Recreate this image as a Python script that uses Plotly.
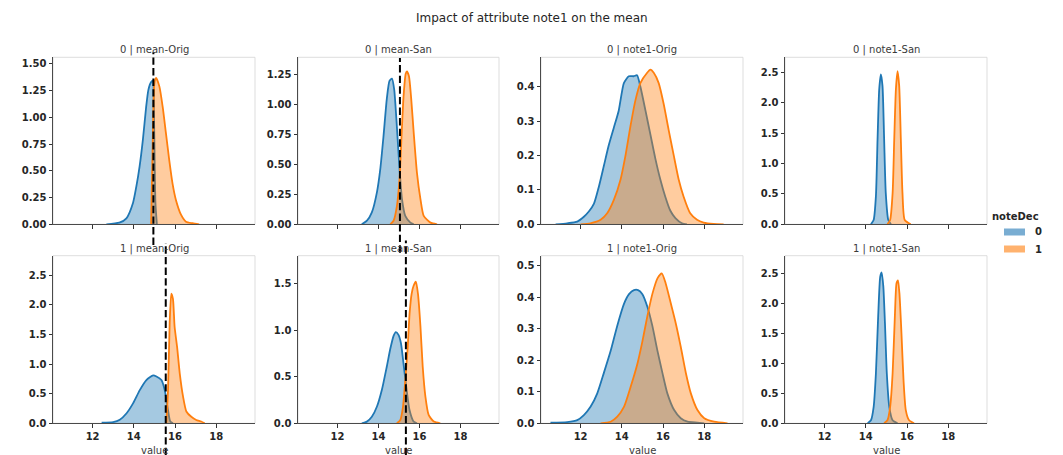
import plotly.graph_objects as go

# ---------------- data ----------------
x_ticks = [12, 14, 16, 18]
x_range = [10.08, 19.88]
hue_levels = ["0", "1"]
panel_titles = ["0 | mean-Orig", "0 | mean-San", "0 | note1-Orig", "0 | note1-San",
                "1 | mean-Orig", "1 | mean-San", "1 | note1-Orig", "1 | note1-San"]

# row 0, mean-Orig
r0_meanOrig_h0_x = [12.67, 13.3, 13.64, 13.96, 14.12, 14.28, 14.44, 14.6, 14.71, 14.84, 14.92, 14.98, 15.05, 15.12]
r0_meanOrig_h0_y = [0.0, 0.015, 0.056, 0.2, 0.35, 0.54, 0.79, 1.1, 1.26, 1.33, 1.34, 1.0, 0.2, 0.0]
r0_meanOrig_h1_x = [14.84, 14.92, 15.0, 15.08, 15.24, 15.4, 15.56, 15.72, 15.88, 16.04, 16.29, 16.53, 16.85, 17.17]
r0_meanOrig_h1_y = [0.0, 0.79, 1.32, 1.37, 1.29, 1.1, 0.85, 0.6, 0.38, 0.23, 0.09, 0.025, 0.01, 0.0]

# row 0, mean-San
r0_meanSan_h0_x = [13.19, 13.44, 13.68, 13.93, 14.09, 14.25, 14.41, 14.54, 14.66, 14.77, 14.9, 15.02, 15.15, 15.31, 15.56, 15.72]
r0_meanSan_h0_y = [0.0, 0.03, 0.1, 0.27, 0.46, 0.74, 1.05, 1.2, 1.22, 1.13, 0.82, 0.49, 0.21, 0.07, 0.014, 0.0]
r0_meanSan_h1_x = [14.58, 14.74, 14.9, 15.03, 15.15, 15.23, 15.33, 15.39, 15.49, 15.6, 15.72, 15.88, 16.05, 16.21, 16.54, 16.86]
r0_meanSan_h1_y = [0.0, 0.03, 0.15, 0.38, 0.82, 1.08, 1.26, 1.28, 1.24, 1.05, 0.77, 0.43, 0.21, 0.07, 0.014, 0.0]

# row 0, note1-Orig
r0_note1Orig_h0_x = [10.79, 11.35, 11.84, 12.16, 12.4, 12.65, 12.89, 13.13, 13.37, 13.61, 13.85, 14.1, 14.34, 14.58,
                     14.74, 14.9, 15.15, 15.39, 15.63, 15.87, 16.11, 16.35, 16.6, 16.92, 17.16]
r0_note1Orig_h0_y = [0.0, 0.003, 0.008, 0.022, 0.037, 0.06, 0.11, 0.17, 0.23, 0.28, 0.33, 0.41, 0.43, 0.43,
                     0.433, 0.4, 0.33, 0.26, 0.19, 0.13, 0.08, 0.04, 0.018, 0.003, 0.0]
r0_note1Orig_h1_x = [12.0, 12.48, 12.97, 13.29, 13.61, 13.94, 14.18, 14.42, 14.66, 14.9, 15.23, 15.39, 15.55, 15.79,
                     16.03, 16.27, 16.52, 16.76, 17.0, 17.32, 17.65, 17.97, 18.45, 18.94]
r0_note1Orig_h1_y = [0.0, 0.003, 0.013, 0.032, 0.07, 0.13, 0.2, 0.285, 0.36, 0.41, 0.44, 0.449, 0.44, 0.41,
                     0.35, 0.275, 0.2, 0.13, 0.08, 0.032, 0.013, 0.005, 0.001, 0.0]

# row 0, note1-San
r0_note1San_h0_x = [14.25, 14.38, 14.49, 14.57, 14.65, 14.73, 14.81, 14.89, 14.97, 15.09, 15.22]
r0_note1San_h0_y = [0.0, 0.07, 0.46, 1.4, 2.22, 2.47, 2.28, 1.4, 0.51, 0.07, 0.0]
r0_note1San_h1_x = [15.05, 15.18, 15.3, 15.38, 15.46, 15.54, 15.62, 15.7, 15.78, 15.89, 16.18]
r0_note1San_h1_y = [0.0, 0.07, 0.51, 1.4, 2.22, 2.52, 2.28, 1.4, 0.51, 0.07, 0.0]

# row 1, mean-Orig
r1_meanOrig_h0_x = [12.44, 13.0, 13.32, 13.65, 13.97, 14.29, 14.61, 14.94, 15.1, 15.34, 15.5, 15.66, 15.77, 15.9]
r1_meanOrig_h0_y = [0.01, 0.02, 0.06, 0.17, 0.34, 0.56, 0.73, 0.81, 0.79, 0.73, 0.56, 0.22, 0.03, 0.0]
r1_meanOrig_h1_x = [15.58, 15.66, 15.74, 15.82, 15.9, 15.98, 16.1, 16.23, 16.39, 16.55, 16.79, 17.03, 17.27, 17.44]
r1_meanOrig_h1_y = [0.0, 0.56, 1.69, 2.19, 2.1, 1.63, 1.29, 0.84, 0.45, 0.2, 0.11, 0.056, 0.03, 0.0]

# row 1, mean-San
r1_meanSan_h0_x = [13.19, 13.44, 13.68, 13.93, 14.17, 14.41, 14.58, 14.74, 14.85, 14.98, 15.1, 15.23, 15.36, 15.52, 15.72, 15.88]
r1_meanSan_h0_y = [0.0, 0.018, 0.07, 0.18, 0.36, 0.61, 0.8, 0.94, 0.98, 0.95, 0.86, 0.63, 0.39, 0.14, 0.018, 0.0]
r1_meanSan_h1_x = [14.9, 15.07, 15.2, 15.31, 15.43, 15.52, 15.62, 15.72, 15.83, 15.93, 16.05, 16.16, 16.29, 16.45, 16.7, 17.02]
r1_meanSan_h1_y = [0.0, 0.036, 0.18, 0.46, 0.82, 1.18, 1.39, 1.48, 1.52, 1.39, 1.04, 0.61, 0.29, 0.09, 0.018, 0.0]

# row 1, note1-Orig
r1_note1Orig_h0_x = [10.54, 11.35, 11.84, 12.16, 12.49, 12.81, 13.13, 13.46, 13.78, 14.11, 14.35, 14.59, 14.79,
                     15.0, 15.24, 15.48, 15.73, 15.97, 16.21, 16.54, 16.86, 17.19, 17.67, 18.0]
r1_note1Orig_h0_y = [0.002, 0.004, 0.01, 0.026, 0.053, 0.095, 0.16, 0.23, 0.31, 0.38, 0.41, 0.423, 0.423,
                     0.41, 0.37, 0.31, 0.23, 0.16, 0.095, 0.042, 0.016, 0.005, 0.002, 0.0]
r1_note1Orig_h1_x = [12.97, 13.46, 13.78, 14.11, 14.43, 14.76, 15.0, 15.24, 15.48, 15.73, 15.94, 16.13, 16.38,
                     16.62, 16.86, 17.11, 17.35, 17.67, 18.0, 18.48, 19.13]
r1_note1Orig_h1_y = [0.0, 0.005, 0.021, 0.053, 0.116, 0.19, 0.26, 0.34, 0.41, 0.46, 0.476, 0.444, 0.38,
                     0.317, 0.243, 0.159, 0.095, 0.042, 0.016, 0.005, 0.0]

# row 1, note1-San
r1_note1San_h0_x = [14.09, 14.25, 14.38, 14.49, 14.6, 14.7, 14.77, 14.85, 14.93, 15.02, 15.14, 15.3, 15.54]
r1_note1San_h0_y = [0.0, 0.05, 0.27, 0.83, 1.78, 2.44, 2.51, 2.28, 1.66, 0.83, 0.27, 0.05, 0.0]
r1_note1San_h1_x = [14.89, 15.05, 15.18, 15.3, 15.41, 15.49, 15.56, 15.63, 15.73, 15.83, 15.94, 16.1, 16.34]
r1_note1San_h1_y = [0.0, 0.05, 0.27, 0.83, 1.78, 2.33, 2.38, 2.17, 1.5, 0.72, 0.22, 0.05, 0.0]

# mean thresholds (dashed lines)
thr_r0_meanOrig = 14.95
thr_r0_meanSan = 15.05
thr_r1_meanOrig = 15.55
thr_r1_meanSan = 15.34

# y-axis upper limits and tick steps per panel
y_max = [1.562, 1.398, 0.485, 2.75, 2.83, 1.80, 0.532, 2.79]
y_dtick = [0.25, 0.25, 0.1, 0.5, 0.5, 0.5, 0.1, 0.5]
y_fmt = [".2f", ".2f", ".1f", ".1f", ".1f", ".1f", ".1f", ".1f"]

panels = [
    (r0_meanOrig_h0_x, r0_meanOrig_h0_y, r0_meanOrig_h1_x, r0_meanOrig_h1_y),
    (r0_meanSan_h0_x, r0_meanSan_h0_y, r0_meanSan_h1_x, r0_meanSan_h1_y),
    (r0_note1Orig_h0_x, r0_note1Orig_h0_y, r0_note1Orig_h1_x, r0_note1Orig_h1_y),
    (r0_note1San_h0_x, r0_note1San_h0_y, r0_note1San_h1_x, r0_note1San_h1_y),
    (r1_meanOrig_h0_x, r1_meanOrig_h0_y, r1_meanOrig_h1_x, r1_meanOrig_h1_y),
    (r1_meanSan_h0_x, r1_meanSan_h0_y, r1_meanSan_h1_x, r1_meanSan_h1_y),
    (r1_note1Orig_h0_x, r1_note1Orig_h0_y, r1_note1Orig_h1_x, r1_note1Orig_h1_y),
    (r1_note1San_h0_x, r1_note1San_h0_y, r1_note1San_h1_x, r1_note1San_h1_y),
]
# panel index -> (threshold, y0 frac, y1 frac)
thresholds = {0: (thr_r0_meanOrig, -0.124, 1.03), 1: (thr_r0_meanSan, -0.17, 0.996),
              4: (thr_r1_meanOrig, -0.19, 1.076), 5: (thr_r1_meanSan, -0.19, 1.09)}

# ---------------- styling ----------------
W, H = 1063, 455
FONT = "DejaVu Sans"
line_cols = ["#1f77b4", "#ff7f0e"]
fill_cols = ["rgba(31,119,180,0.4)", "rgba(255,127,14,0.4)"]
legend_cols = ["rgba(31,119,180,0.6)", "rgba(255,127,14,0.6)"]
col_px = [(53, 255), (298, 499), (541, 743), (785, 987)]
row_px = [(57.3, 224.3), (255.7, 423.3)]

fig = go.Figure()
layout = dict(template="none", width=W, height=H, autosize=False,
              margin=dict(l=0, r=0, t=0, b=0, pad=0),
              paper_bgcolor="white", plot_bgcolor="white", showlegend=False,
              font=dict(family=FONT, color="#262626"))
shapes, annotations = [], []

for i, (x0s, y0s, x1s, y1s) in enumerate(panels):
    r, c = divmod(i, 4)
    n = i + 1
    xa = "x" if n == 1 else f"x{n}"
    ya = "y" if n == 1 else f"y{n}"
    xkey = "xaxis" if n == 1 else f"xaxis{n}"
    ykey = "yaxis" if n == 1 else f"yaxis{n}"
    for h, (xs, ys) in enumerate([(x0s, y0s), (x1s, y1s)]):
        fig.add_trace(go.Scatter(x=xs, y=ys, mode="lines", fill="tozeroy",
                                 fillcolor=fill_cols[h], line=dict(width=0, shape="spline", smoothing=0.6),
                                 xaxis=xa, yaxis=ya, hoverinfo="skip"))
        fig.add_trace(go.Scatter(x=xs, y=ys, mode="lines",
                                 line=dict(color=line_cols[h], width=1.8, shape="spline", smoothing=0.6),
                                 xaxis=xa, yaxis=ya, name=hue_levels[h]))
    cx0, cx1 = col_px[c]
    ry0, ry1 = row_px[r]
    layout[xkey] = dict(domain=[cx0 / W, cx1 / W], anchor=ya, range=x_range, automargin=False,
                        tickvals=x_ticks, ticktext=[str(t) for t in x_ticks],
                        showticklabels=(r == 1), ticks="outside", ticklen=3.5, tickwidth=0.8,
                        tickcolor="#333", showline=True, linecolor="#4a4a4a", linewidth=1,
                        showgrid=False, zeroline=False,
                        tickfont=dict(family=FONT, size=10, color="#262626", weight="bold"))
    layout[ykey] = dict(domain=[1 - ry1 / H, 1 - ry0 / H], anchor=xa, range=[0, y_max[i]],
                        automargin=False,
                        dtick=y_dtick[i], tick0=0, tickformat=y_fmt[i],
                        ticks="outside", ticklen=3.5, tickwidth=0.8, tickcolor="#333",
                        showline=True, linecolor="#4a4a4a", linewidth=1,
                        showgrid=False, zeroline=False,
                        tickfont=dict(family=FONT, size=10, color="#262626", weight="bold"))
    # light top/right frame
    shapes.append(dict(type="rect", xref=f"{xa} domain", yref=f"{ya} domain",
                       x0=0, x1=1, y0=0, y1=1, line=dict(color="#d4d4d4", width=0.8), layer="below"))
    # panel title
    annotations.append(dict(text=panel_titles[i], xref="paper", yref="paper",
                            x=(cx0 + cx1) / 2 / W, y=1 - (ry0 - 7) / H, xanchor="center", yanchor="middle",
                            showarrow=False, font=dict(family=FONT, size=10, color="#3a3a3a")))
    if r == 1:
        annotations.append(dict(text="value", xref="paper", yref="paper",
                                x=(cx0 + cx1) / 2 / W, y=1 - 450 / H, xanchor="center", yanchor="middle",
                                showarrow=False, font=dict(family=FONT, size=10, color="#3a3a3a")))
    if i in thresholds:
        tv, fy0, fy1 = thresholds[i]
        fx = (tv - x_range[0]) / (x_range[1] - x_range[0])
        shapes.append(dict(type="line", xref=f"{xa} domain", yref=f"{ya} domain",
                           x0=fx, x1=fx, y0=fy0, y1=fy1, layer="above",
                           line=dict(color="black", width=2, dash="7.4px,3.2px")))

# suptitle
annotations.append(dict(text="Impact of attribute note1 on the mean", xref="paper", yref="paper",
                        x=531.5 / W, y=1 - 18 / H, xanchor="center", yanchor="middle", showarrow=False,
                        font=dict(family=FONT, size=12, color="#262626")))
# legend (drawn manually to mimic the seaborn facet legend)
annotations.append(dict(text="<b>noteDec</b>", xref="paper", yref="paper", x=1015 / W, y=1 - 216 / H,
                        xanchor="center", yanchor="middle", showarrow=False,
                        font=dict(family=FONT, size=10, color="#262626")))
for h, lab in enumerate(hue_levels):
    yc = 232 + h * 17
    shapes.append(dict(type="rect", xref="paper", yref="paper", x0=1004 / W, x1=1025 / W,
                       y0=1 - (yc + 3.5) / H, y1=1 - (yc - 3.5) / H,
                       fillcolor=legend_cols[h], line=dict(width=0)))
    annotations.append(dict(text=f"<b>{lab}</b>", xref="paper", yref="paper", x=1033 / W, y=1 - yc / H,
                            xanchor="left", yanchor="middle", showarrow=False,
                            font=dict(family=FONT, size=10, color="#262626")))

layout["shapes"] = shapes
layout["annotations"] = annotations
fig.update_layout(**layout)
fig.write_html("out.html")
